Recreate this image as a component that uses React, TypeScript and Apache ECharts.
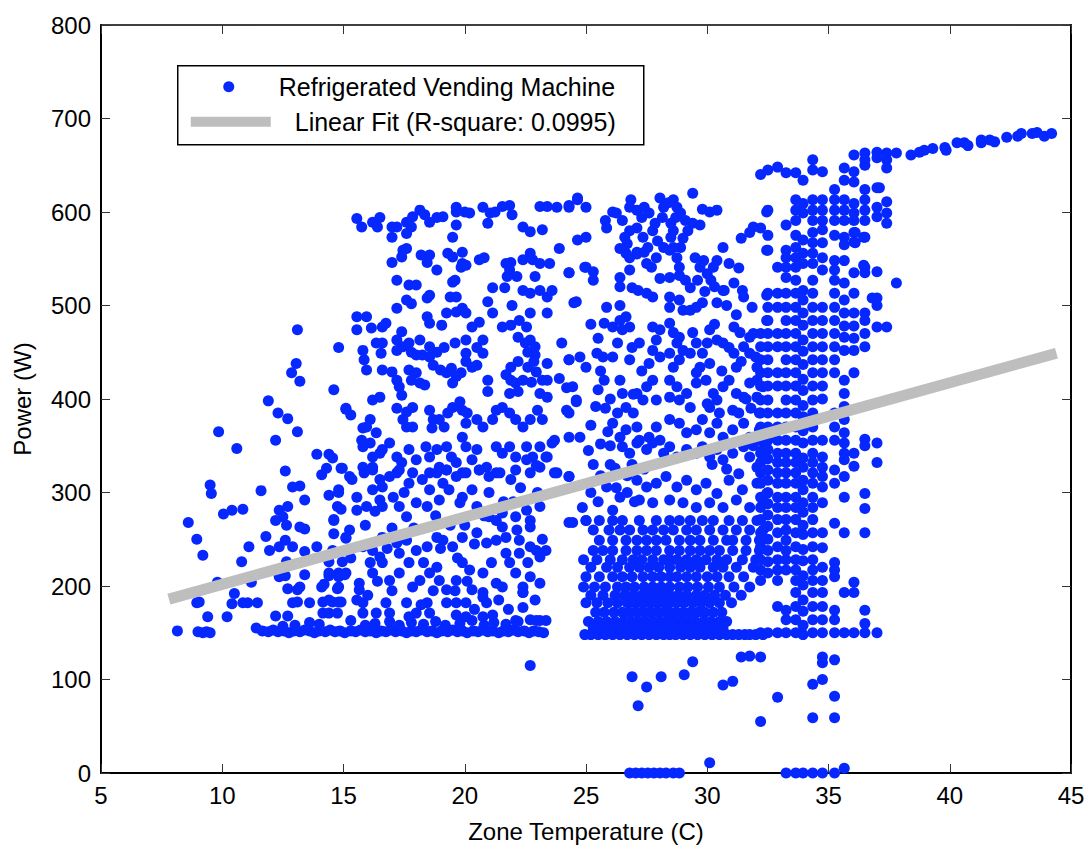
import React, { useEffect, useRef } from "react";
import * as echarts from "echarts";

type Pair = [number, number];
type Row = [number, number[]]; // [y, xs]
type Col = [number, number[]]; // [x, ys]

const xRange = { min: 5, max: 45, interval: 5 };
const yRange = { min: 0, max: 800, interval: 100 };

const seriesName = "Refrigerated Vending Machine";
const fitName = "Linear Fit (R-square: 0.0995)";

// Least-squares fit line endpoints
const fitX = [7.8, 44.4];
const fitY = [186, 449];

// Cool-zone readings (8–15 C)
const coolPoints: Pair[] = [
  [8.15,152],[8.6,268],[8.95,250],[8.95,182],[9.05,183],[9.2,233],[9.4,167],[9.5,308],[9.55,299],[9.0,151],[9.2,150],[9.35,151],[9.5,150],
  [9.85,365],[9.8,204],[10.05,277],[10.2,167],[10.4,281],[10.4,181],[10.5,192],[10.6,347],[10.8,226],[10.85,282],[10.85,182],[11.05,182],
  [11.1,242],[11.2,204],[11.45,182],[11.4,155],[11.6,302],[11.8,253],[11.9,398],[11.95,238],[12.2,356],[12.2,270],[12.2,168],[12.3,385],
  [12.35,281],[12.35,242],[12.35,210],[12.5,274],[12.6,323],[12.6,249],[12.6,211],[12.65,265],[12.65,226],[12.7,379],[12.7,285],[12.7,197],
  [12.7,168],[12.86,428],[12.9,306],[12.9,242],[12.9,182],[13.05,438],[13.1,474],[13.1,365],[13.1,196],[13.1,183],[13.2,419],[13.2,307],
  [13.2,263],[13.2,199],[13.4,292],[13.4,261],[13.4,237],[13.4,212],[13.6,182],[13.6,161],[13.9,341],[13.9,242],[14.1,319],[14.1,199],
  [14.15,183],[14.15,171],[14.2,202],[14.3,326],[14.4,341],[14.4,297],[14.4,226],[14.4,211],[14.4,171],[14.55,337],[14.55,183],[14.6,410],
  [14.6,271],[14.6,256],[14.75,197],[14.75,171],[14.8,455],[14.8,300],[14.8,214],[14.9,326],[14.9,282],[14.9,183],[14.95,226],[15.05,212],
  [15.1,389],[15.1,251],
];

// Base-load row near 150 W (11.5–23.3 C)
const baseRowMid: Pair[] = [
  [11.65,152],[11.9,151],[12.1,153],[12.3,151],[12.55,152],[12.75,150],[12.95,152],[13.2,151],[13.4,153],[13.6,152],[13.8,150],[14.0,152],
  [14.25,151],[14.45,153],[14.65,151],[14.85,152],[15.05,150],[15.3,152],[15.5,151],[15.7,153],[15.9,151],[16.1,152],[16.35,150],[16.55,152],
  [16.75,151],[16.95,153],[17.15,151],[17.4,152],[17.6,150],[17.8,152],[18.0,151],[18.2,153],[18.45,151],[18.65,152],[18.85,150],[19.05,152],
  [19.3,151],[19.5,153],[19.7,151],[19.9,152],[20.1,150],[20.35,152],[20.55,151],[20.75,153],[20.95,151],[21.15,152],[21.4,150],[21.6,152],
  [21.8,151],[22.0,153],[22.2,151],[22.45,152],[22.65,150],[22.85,152],[23.05,151],[23.25,150],
  [15.3,163],[15.9,158],[16.3,160],[16.9,162],[17.3,158],[17.8,161],[18.3,159],[18.8,162],[19.2,158],[19.8,160],[20.3,163],[20.8,158],
  [21.2,161],[21.7,159],[22.2,162],[22.7,164],[23.1,163],[13.0,158],[14.0,159],[12.5,157],
];

// Mid-zone readings, upper half (15–24.5 C)
const midUpper: Pair[] = [
  [15.55,593],[15.75,584],[16.2,589],[16.5,594],[16.4,584],[17.0,584],[17.2,584],[17.0,573],[17.6,589],[17.85,595],[18.15,602],[18.35,597],
  [18.55,589],[18.85,594],[19.1,595],[17.8,584],[17.6,577],[19.65,605],[19.65,600],[20.0,600],[20.2,599],[19.65,586],[19.5,573],[20.75,605],
  [21.05,599],[21.25,600],[20.95,588],[21.85,607],[21.95,597],[21.55,606],[22.4,584],[22.7,579],[23.2,581],[23.1,606],[23.4,606],[23.8,605],
  [24.3,607],[24.65,613],
  [17.45,559],[17.6,561],[17.4,552],[17.0,546],[18.2,554],[18.45,546],[18.55,554],[18.85,538],[19.3,556],[19.5,552],[19.9,557],[19.9,545],
  [19.85,541],[20.05,543],[20.6,549],[20.8,551],[21.7,545],[21.9,546],[21.85,538],[22.15,531],[21.75,531],[22.4,549],[22.7,556],[22.8,549],
  [23.1,545],[23.5,545],[23.9,561],[24.3,535],[22.9,531],
  [17.2,527],[17.7,522],[18.0,522],[18.55,511],[18.45,508],[19.5,525],[19.6,527],[21.15,519],[21.65,519],[22.4,516],[22.7,513],[23.1,516],
  [23.4,509],[23.6,516],[17.6,506],[17.8,502],[19.4,509],[19.65,509],[20.95,504],[21.95,500],[24.5,503],
  [17.2,497],[18.45,488],[18.55,481],[19.25,492],[19.65,493],[19.9,497],[20.05,492],[21.15,492],[15.55,488],[15.95,488],[21.55,477],[21.9,479],
  [22.25,484],[22.7,492],[22.55,477],[23.4,492],[15.55,474],[16.15,476],[16.6,477],[16.75,481],[17.4,472],[19.05,479],[20.3,477],[20.6,482],
  [15.8,452],[15.85,442],[15.95,431],[16.55,449],[16.35,460],[16.6,460],[17.2,463],[17.2,452],[17.45,456],[17.7,460],[17.8,450],[18.15,463],
  [18.55,456],[18.0,447],[18.25,447],[18.55,445],[18.85,450],[19.15,455],[19.6,460],[20.05,463],[20.05,449],[20.5,455],[20.75,463],[20.75,449],
  [20.5,436],[22.2,466],[22.5,460],[22.7,463],[22.9,456],[22.6,450],[22.9,447],[22.85,440],[22.6,434],[22.2,440],[21.9,434],[23.4,438],
  [24.0,460],[24.3,442],[22.95,429],[23.2,420],[23.4,420],
  [15.1,390],[15.3,383],[16.6,431],[17.0,429],[17.2,420],[17.3,413],[17.4,404],[17.7,431],[18.0,428],[17.8,420],[18.15,417],[18.35,415],
  [18.7,436],[19.0,431],[19.25,428],[19.45,433],[19.65,424],[19.85,428],[19.5,417],[20.05,440],[20.3,434],[20.95,420],[20.95,408],[21.7,426],
  [21.9,420],[22.1,417],[22.2,408],[21.85,406],[22.4,420],[22.75,418],[23.1,406],[23.4,402],[23.9,422],[24.2,412],[24.6,397],
  [16.2,399],[16.5,402],[17.2,390],[17.6,386],[17.85,391],[17.45,378],[17.6,370],[17.85,370],[18.55,388],[18.7,378],[18.65,369],[18.95,378],
  [19.15,370],[19.3,385],[19.5,391],[19.8,397],[19.9,388],[20.1,385],[20.05,374],[20.5,378],[20.75,370],[21.15,378],[21.3,388],[21.55,391],
  [21.85,385],[22.1,378],[22.4,370],[22.7,378],[23.0,388],[23.2,378],[24.2,388],[16.1,378],[15.95,370],[15.8,369],[23.7,356],[24.3,359],
  [15.75,356],[15.8,349],[16.1,353],[16.35,364],[16.5,342],[16.6,346],[16.2,338],[16.9,353],[17.2,338],[17.4,332],[17.7,346],[18.0,335],
  [18.4,349],[18.55,338],[18.85,346],[18.95,327],[19.25,349],[19.45,338],[19.65,332],[19.9,359],[20.05,349],[20.3,335],[20.5,346],[20.9,327],
  [21.3,349],[21.55,342],[21.85,349],[22.1,338],[22.55,349],[22.8,338],[23.1,349],[23.4,338],[23.6,353],[22.7,321],[23.1,327],[23.8,321],
  [24.3,317],[15.25,317],[15.8,327],[16.2,324],[17.2,321],[17.85,321],[18.55,321],[19.25,324],[19.9,321],[20.6,324],[21.3,321],
];

// Mid-zone readings, lower half (14.4–24.3 C)
const midLower: Pair[] = [
  [14.95,326],[15.35,314],[15.85,321],[16.2,327],[16.5,314],[16.9,317],[17.3,324],[17.7,310],[18.25,314],[18.85,321],[19.25,324],[19.65,317],
  [20.05,321],[20.6,324],[21.0,317],[21.45,321],[21.9,314],[22.1,324],[22.55,335],[22.95,329],[23.35,338],[23.7,321],
  [14.8,303],[14.75,285],[14.6,270],[15.55,295],[15.55,281],[15.95,285],[16.2,303],[16.6,306],[16.5,292],[17.05,295],[17.3,285],[17.6,274],
  [18.0,289],[18.45,285],[18.55,303],[18.95,292],[19.35,303],[19.8,289],[19.9,295],[20.3,303],[20.5,285],[21.0,274],[21.3,270],[21.55,278],
  [22.1,274],[22.55,281],[22.7,270],[23.1,285],[24.3,268],
  [14.55,238],[15.1,252],[15.25,260],[15.8,242],[16.2,238],[16.5,231],[16.6,252],[17.2,246],[17.6,249],[18.0,238],[18.45,242],[18.85,252],
  [19.1,249],[19.5,242],[19.9,252],[20.5,257],[20.9,246],[21.3,249],[21.7,252],[22.25,249],[22.7,242],[22.95,238],[23.35,238],[22.7,263],
  [22.15,260],[21.55,263],
  [14.4,214],[14.8,210],[15.1,214],[14.8,199],[15.65,203],[15.65,196],[16.2,214],[16.6,225],[16.9,206],[17.3,214],[17.7,225],[17.85,199],
  [18.15,206],[18.55,214],[18.85,220],[18.95,206],[19.25,196],[19.65,206],[19.9,225],[20.2,217],[20.3,196],[20.75,214],[20.75,193],[21.3,203],
  [21.55,199],[21.85,225],[22.1,214],[22.4,199],[22.7,210],[23.1,203],[22.4,193],[23.1,231],[22.25,235],
  [14.4,185],[14.8,183],[15.55,185],[15.8,182],[15.8,171],[16.35,171],[16.75,182],[16.9,171],[17.6,182],[17.7,167],[18.0,171],[18.45,182],
  [18.55,171],[19.25,182],[19.65,182],[20.05,182],[19.65,169],[20.05,167],[20.75,188],[20.9,182],[20.75,167],[21.15,169],[22.1,163],[22.4,193],
  [22.4,177],[22.95,163],[23.35,163],[22.7,115],
  [16.0,190],[16.4,205],[16.1,225],[16.8,240],[17.0,262],[16.3,280],[17.5,300],[17.9,262],[18.3,225],[18.7,195],[19.0,240],[19.4,265],
  [19.7,230],[20.1,205],[20.4,245],[20.8,275],[21.1,225],[21.4,185],[21.7,235],[22.0,290],[22.3,305],[22.6,225],[22.9,185],[23.2,250],
  [23.0,300],[21.0,300],[19.1,310],[17.0,195],[18.2,180],[20.4,175],[21.8,175],[16.6,285],[18.8,275],[20.0,265],[21.6,290],[15.3,230],
  [15.9,265],[19.6,195],[17.3,235],
];

// Warm-zone readings, upper half (24.3–32.5 C)
const warmUpper: Pair[] = [
  [24.65,615],[25.0,605],[24.3,605],
  [26.1,600],[25.8,591],[25.85,583],[26.25,599],[26.5,591],[26.85,613],[26.8,605],[27.1,602],[27.3,594],[27.4,605],[27.6,599],[27.85,588],
  [28.05,615],[28.2,605],[28.15,594],[28.4,610],[28.6,613],[28.75,605],[28.7,594],[28.5,588],[28.9,599],[29.1,591],[29.2,580],[29.0,572],
  [28.6,580],[28.5,573],[28.9,562],[28.6,562],[28.2,562],[27.95,569],[27.75,580],[27.55,562],[27.35,573],[27.1,583],[26.8,580],[26.6,573],
  [26.7,566],[26.65,556],[27.1,557],[27.4,557],
  [29.4,620],[29.8,603],[30.1,600],[30.4,602],[29.4,588],[29.7,586],[31.9,584],[31.75,578],[31.4,572],[32.45,600],[30.65,562],[32.45,559],
  [24.65,570],[25.0,573],[24.3,535],[25.0,541],[25.3,536],[25.3,527],
  [26.4,561],[26.8,551],[27.1,555],[27.5,545],[27.7,541],[27.9,551],[28.05,529],[28.45,530],[28.85,532],[28.45,559],[28.75,551],[28.85,541],
  [29.1,527],[29.3,519],[29.6,527],[29.7,541],[29.5,551],[29.85,548],[30.0,534],[30.15,527],[30.25,541],[30.4,548],[30.7,516],[31.1,524],
  [31.45,516],[31.5,509],[31.85,498],[32.45,511],[32.45,484],
  [24.95,541],[24.6,504],[26.4,530],[26.4,520],[26.8,538],[26.9,519],[27.15,516],[27.5,513],[27.75,509],[28.45,509],[28.45,498],[28.85,506],
  [29.0,495],[29.3,495],[29.55,498],[29.8,503],[25.85,498],[26.4,500],[30.4,503],[30.65,516],
  [25.75,481],[26.1,477],[26.4,484],[26.65,488],[26.8,477],[26.5,474],[27.2,460],[27.75,477],[28.05,474],[27.9,463],[27.75,452],[28.05,445],
  [27.6,438],[28.45,481],[28.6,471],[28.75,460],[28.45,449],[28.6,434],[28.85,442],[29.0,452],[28.85,466],[29.4,471],[29.55,460],[29.8,449],
  [30.1,438],[29.7,434],[29.3,449],[29.55,428],[30.1,474],[30.4,463],[30.65,460],[31.1,477],[31.35,471],[31.5,456],[31.1,449],[31.2,434],
  [31.75,466],[31.75,449],[32.05,434],
  [24.3,442],[24.75,445],[25.0,434],[25.45,449],[25.7,445],[26.1,445],[24.45,413],[24.6,399],[24.3,385],[24.75,359],[26.8,442],
  [26.4,420],[26.5,406],[26.65,391],[26.95,385],[27.1,406],[27.5,413],[27.75,420],[27.35,399],[27.9,399],[28.45,420],[28.75,413],[28.45,402],
  [28.85,399],[29.15,406],[29.3,391],[29.55,417],[29.95,420],[30.25,406],[30.1,391],[30.4,399],[30.65,413],[30.9,420],[31.2,406],[31.05,388],
  [31.5,402],[31.75,417],[32.05,420],[32.05,402],[32.3,413],[32.15,385],
  [26.1,374],[26.4,359],[26.65,367],[27.1,370],[27.2,356],[27.6,359],[27.9,370],[28.05,356],[28.45,378],[28.85,374],[29.15,364],[29.55,367],
  [29.8,378],[30.1,364],[30.4,374],[30.65,359],[31.05,367],[31.5,374],[31.75,359],[32.15,367],
  [25.3,330],[25.6,352],[25.2,372],[25.8,390],[25.5,410],[26.0,330],[25.9,365],
  [26.5,349],[26.8,342],[27.1,353],[27.5,346],[27.75,353],[28.2,342],[28.45,349],[28.75,338],[29.15,346],[29.55,342],[29.8,349],[30.1,338],
  [30.4,346],[30.65,335],[31.05,342],[31.5,349],[31.75,338],[32.05,327],[32.3,346],
  [27.1,313],[27.5,306],[27.9,310],[28.3,317],[28.75,306],[29.15,313],[29.55,303],[29.95,310],[30.4,299],[30.9,313],[31.45,303],[32.05,310],
  [32.45,299],[27.2,292],[27.75,289],[28.45,292],[29.0,289],[29.55,284],[30.1,289],[30.65,284],[31.2,292],[31.75,284],[32.3,289],[26.4,295],
  [26.1,281],[25.85,306],[24.3,317],[24.85,284],[25.0,270],[24.45,268],[26.2,326],[26.7,318],[25.6,318],
  [25.2,300],[25.5,290],[25.1,345],[25.4,392],[25.75,420],[26.0,400],[26.3,385],[26.0,350],[26.25,305],[26.7,300],[26.9,330],[26.95,405],
  [26.3,460],[25.5,465],[25.2,480],[25.6,430],[26.9,455],[27.3,430],[27.4,325],[27.0,290],
  [30.0,460],[30.3,480],[30.6,430],[30.9,455],[31.2,490],[31.4,440],[31.6,400],[31.9,470],[30.2,330],[30.8,325],[31.3,320],[31.9,350],
  [30.0,395],[30.5,385],[31.3,385],[31.8,390],[32.0,445],[30.8,500],[31.3,540],[30.9,545],[29.9,515],[30.3,520],
];

// Warm-zone readings, dense lower band, stored as [power, temperatures]
const warmRows: Row[] = [
  [270, [25.0,25.55,26.1,26.5,27.2,27.9,28.45,28.85,29.3,29.8,30.25,30.9,31.45,32.05]],
  [260, [25.3,25.95,26.4,26.8,27.35,27.75,28.2,28.6,29.15,29.55,30.1,30.65,31.2,31.75,32.3]],
  [249, [25.55,26.1,26.65,27.1,27.5,27.9,28.3,28.85,29.3,29.7,30.25,30.8,31.05,31.6,32.15]],
  [238, [25.3,25.7,26.1,26.65,27.1,27.5,27.9,28.45,28.85,29.3,29.7,30.1,30.5,31.05,31.6,32.15]],
  [228, [24.9,25.45,26.0,26.5,26.95,27.3,27.75,28.2,28.45,28.75,29.15,29.55,29.95,30.4,30.8,31.45,32.0]],
  [220, [25.2,25.85,26.3,26.8,27.2,27.6,28.0,28.45,28.9,29.3,29.7,30.25,30.65,31.2,31.9]],
  [210, [25.0,25.55,26.1,26.5,26.9,27.35,27.75,28.1,28.45,28.75,29.15,29.55,30.0,30.4,30.9,31.5]],
  [199, [24.9,25.35,25.8,26.3,26.65,27.0,27.4,27.75,28.1,28.45,28.85,29.2,29.6,30.05,30.5,31.1,31.75]],
  [190, [25.2,25.7,26.2,26.6,26.95,27.3,27.65,28.0,28.3,28.45,28.8,29.15,29.55,29.9,30.3,30.75,31.4]],
  [182, [25.0,25.45,25.9,26.3,26.7,27.0,27.3,27.6,27.9,28.2,28.45,28.75,29.05,29.4,29.75,30.1,30.5,31.0]],
  [172, [25.4,25.75,26.15,26.5,26.8,27.1,27.4,27.7,28.0,28.3,28.45,28.7,29.0,29.3,29.6,29.9,30.25,30.6]],
  [162, [25.1,25.5,25.85,26.2,26.55,26.85,27.15,27.45,27.75,28.05,28.35,28.6,28.9,29.2,29.5,29.85,30.15,30.5,30.8]],
  [155, [25.3,25.65,26.0,26.35,26.7,27.0,27.3,27.6,27.9,28.2,28.45,28.75,29.05,29.35,29.65,29.95,30.3,30.65]],
  [148, [24.95,25.2,25.5,25.8,26.1,26.4,26.7,27.0,27.3,27.6,27.9,28.2,28.45,28.7,29.0,29.3,29.6,29.9,30.2,30.5,30.8,31.05,31.3,31.55,31.75,32.0,32.3]],
];

// Hot-zone readings logged at discrete temperatures, stored as [temperature, powers]
const hotColumns: Col[] = [
  [32.2, [640,583,470,456,442,428,414,399,385,370,356,342,332,321,310,295,284,271,257,242,228,217,206,150,124,55]],
  [32.5, [645,602,575,559,513,498,484,470,456,442,428,414,399,385,370,356,346,336,324,313,300,288,276,264,250,238,226,214,150]],
  [32.9, [648,541,513,498,470,456,428,414,385,370,356,342,332,321,310,295,284,271,257,242,228,217,206,178,150,81]],
  [33.25, [642,586,559,551,541,530,513,498,484,470,456,442,428,414,399,385,370,356,342,332,321,310,295,284,271,260,249,238,228,217,174,164,150,0]],
  [33.65, [642,613,602,591,575,562,551,541,527,513,498,484,470,456,442,428,414,399,385,370,356,342,332,321,310,295,284,271,257,242,228,217,206,193,178,164,150,0]],
  [33.95, [634,609,599,570,556,545,516,506,492,479,463,451,437,421,409,393,381,366,353,337,327,313,303,289,279,265,255,239,227,211,201,185,173,158,148,0]],
  [34.35, [656,645,613,602,591,578,567,556,545,527,513,498,484,470,456,442,428,414,399,385,370,356,342,332,321,310,295,284,271,257,242,228,217,206,193,178,164,150,95,59,0]],
  [34.75, [643,613,602,591,581,567,551,538,498,484,470,456,442,428,414,400,356,338,327,317,306,289,257,241,220,206,193,178,164,150,124,118,100,0]],
  [35.25, [624,613,602,591,575,548,538,527,513,498,484,470,456,442,428,385,370,356,324,310,267,225,217,210,174,164,150,121,82,59,0]],
  [35.65, [647,634,613,602,591,573,565,548,524,506,492,478,466,452,420,406,392,378,364,353,342,335,317,295,257,193,150,5]],
  [36.05, [661,643,632,609,599,591,578,568,535,513,492,478,465,452,428,342,328,204,193,150]],
  [36.5, [663,656,650,624,613,602,591,573,541,535,492,484,470,456,357,350,299,283,257,174,160,150]],
  [37.0, [664,658,626,605,595,536,508,500,477,353,332,150]],
  [37.4, [663,656,647,611,599,588,477]],
  [37.8, [663,524]],
];

// High-temperature trail above 650 W
const hotTrail: Pair[] = [
  [38.4,661],[38.75,664],[38.95,666],[39.3,668],[39.8,669],[39.85,666],[40.3,674],[40.6,674],[40.75,671],[41.3,677],[41.3,674],[41.65,677],
  [41.85,675],[42.35,680],[42.8,681],[42.95,684],[43.4,684],[43.6,685],[43.9,681],[44.2,684],[36.45,543],[36.45,573],[36.1,578],[36.1,567],
  [36.8,508],[37.1,626],
];

// Low-power outliers and zero readings
const lowPoints: Pair[] = [
  [26.9,103],[27.5,92],[28.1,103],[29.05,105],[27.15,72],[29.4,119],[31.4,124],[31.75,125],[30.65,94],[31.05,98],[30.1,11],
  [26.8,0],[27.05,0],[27.3,0],[27.55,0],[27.8,0],[28.05,0],[28.3,0],[28.6,0],[28.85,0],
];

const BLUE = "#0628ff";
const FIT_GRAY = "#bebebe";
const FONT = "Liberation Sans, Arial, Helvetica, sans-serif";

function buildScatter(): Pair[] {
  const pts: Pair[] = [];
  [coolPoints, baseRowMid, midUpper, midLower, warmUpper, hotTrail, lowPoints].forEach((arr) => pts.push(...arr));
  warmRows.forEach(([y, xs]) => xs.forEach((x) => pts.push([x, y])));
  hotColumns.forEach(([x, ys]) => ys.forEach((y) => pts.push([x, y])));
  return pts;
}

export default function App() {
  const ref = useRef<HTMLDivElement>(null);

  useEffect(() => {
    if (!ref.current) return;
    const chart = echarts.init(ref.current, undefined, { renderer: "svg" });

    const tickStyle = { color: "#333", width: 1 };
    const baseX = { type: "value" as const, min: xRange.min, max: xRange.max, interval: xRange.interval, splitLine: { show: false } };
    const baseY = { type: "value" as const, min: yRange.min, max: yRange.max, interval: yRange.interval, splitLine: { show: false } };

    chart.setOption({
      animation: false,
      backgroundColor: "#ffffff",
      grid: { left: 101, right: 17, top: 25, bottom: 77, containLabel: false },
      xAxis: [
        {
          ...baseX,
          position: "bottom",
          axisLine: { show: true, onZero: false, lineStyle: { color: "#000", width: 2 } },
          axisTick: { show: true, inside: true, length: 9, lineStyle: tickStyle },
          axisLabel: { show: true, color: "#000", fontSize: 24, fontFamily: FONT, margin: 10 },
          name: "Zone Temperature (C)",
          nameLocation: "middle",
          nameGap: 46,
          nameTextStyle: { color: "#000", fontSize: 24, fontFamily: FONT },
        },
        {
          ...baseX,
          position: "top",
          axisLine: { show: true, onZero: false, lineStyle: { color: "#000", width: 1.5 } },
          axisTick: { show: true, inside: true, length: 9, lineStyle: tickStyle },
          axisLabel: { show: false },
        },
      ],
      yAxis: [
        {
          ...baseY,
          position: "left",
          axisLine: { show: true, onZero: false, lineStyle: { color: "#000", width: 2 } },
          axisTick: { show: true, inside: true, length: 9, lineStyle: tickStyle },
          axisLabel: { show: true, color: "#000", fontSize: 24, fontFamily: FONT, margin: 10 },
          name: "Power (W)",
          nameLocation: "middle",
          nameGap: 67,
          nameTextStyle: { color: "#000", fontSize: 24, fontFamily: FONT },
        },
        {
          ...baseY,
          position: "right",
          axisLine: { show: true, onZero: false, lineStyle: { color: "#000", width: 2 } },
          axisTick: { show: true, inside: true, length: 9, lineStyle: tickStyle },
          axisLabel: { show: false },
        },
      ],
      series: [
        {
          name: seriesName,
          type: "scatter",
          xAxisIndex: 0,
          yAxisIndex: 0,
          data: buildScatter(),
          symbol: "circle",
          symbolSize: 11,
          clip: false,
          itemStyle: { color: BLUE, opacity: 1 },
          z: 2,
        },
        {
          name: fitName,
          type: "line",
          xAxisIndex: 0,
          yAxisIndex: 0,
          data: fitX.map((x, i) => [x, fitY[i]]),
          symbol: "none",
          lineStyle: { color: FIT_GRAY, width: 11, cap: "butt" },
          z: 3,
        },
      ],
      graphic: [
        {
          type: "group",
          left: 177,
          top: 65,
          z: 10,
          children: [
            { type: "rect", shape: { x: 0, y: 0, width: 466, height: 79 }, style: { fill: "#fff", stroke: "#000", lineWidth: 1.5 } },
            { type: "circle", shape: { cx: 51, cy: 21, r: 5.5 }, style: { fill: BLUE } },
            {
              type: "text",
              x: 101,
              y: 21,
              style: { text: seriesName, fill: "#000", font: `25px ${FONT}`, textVerticalAlign: "middle", verticalAlign: "middle" },
            },
            { type: "line", shape: { x1: 13, y1: 56, x2: 93, y2: 56 }, style: { stroke: FIT_GRAY, lineWidth: 10 } },
            {
              type: "text",
              x: 117,
              y: 56,
              style: { text: fitName, fill: "#000", font: `25px ${FONT}`, textVerticalAlign: "middle", verticalAlign: "middle" },
            },
          ],
        },
      ],
    });

    return () => chart.dispose();
  }, []);

  return <div ref={ref} style={{ position: "absolute", left: 0, top: 0, width: 1088, height: 850 }} />;
}
